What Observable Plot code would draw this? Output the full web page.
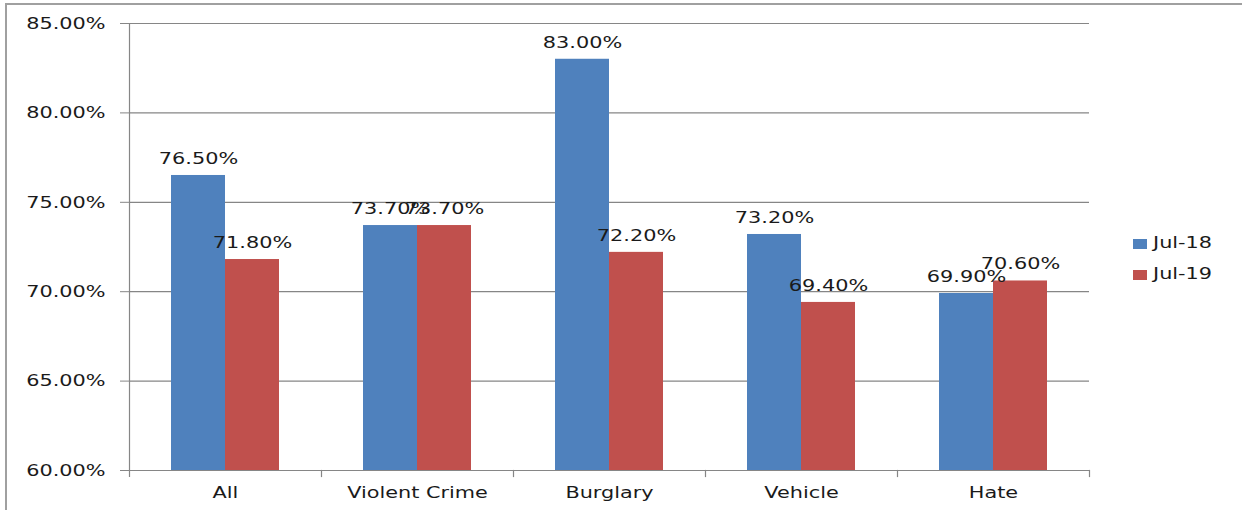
<!DOCTYPE html>
<html>
<head>
<meta charset="utf-8">
<script src="https://cdn.jsdelivr.net/npm/d3@7"></script>
<script src="https://cdn.jsdelivr.net/npm/@observablehq/plot@0.6"></script>
<style>
  html, body { margin: 0; padding: 0; background: #fff; }
  #wrap { position: relative; width: 1242px; height: 510px; overflow: hidden; font-family: "DejaVu Sans", sans-serif; }
  #frame { position: absolute; left: 5px; top: 3px; width: 1300px; height: 600px; border-left: 2px solid #a0a0a0; border-top: 2px solid #a0a0a0; box-sizing: border-box; pointer-events: none; }
  #chart { position: absolute; left: 0; top: 0; }
  .leg { position: absolute; font-size: 16.5px; color: #1a1a1a; line-height: 1; transform: scaleX(1.26); transform-origin: left center; white-space: nowrap; }
  .sw { position: absolute; width: 14px; height: 10px; }
</style>
</head>
<body>
<div id="wrap">
  <div id="chart"></div>
  <div id="frame"></div>
  <div id="legend"></div>
</div>
<script>
const categories = ["All", "Violent Crime", "Burglary", "Vehicle", "Hate"];
const series = ["Jul-18", "Jul-19"];
const jul18 = [76.5, 73.7, 83.0, 73.2, 69.9];
const jul19 = [71.8, 73.7, 72.2, 69.4, 70.6];
const yTicks = [60, 65, 70, 75, 80, 85];
const colors = ["#4F81BD", "#C0504D"];

const seriesValues = [jul18, jul19];
const data = [];
categories.forEach((c, i) => {
  series.forEach((s, j) => data.push({cat: c, series: s, value: seriesValues[j][i]}));
});

const grid = "#868686";
const txt = "#1a1a1a";
const plotH = 510 - 23 - 40;

const chart = Plot.plot({
  width: 1242,
  height: 510,
  marginLeft: 127,
  marginRight: 151,
  marginTop: 23,
  marginBottom: 40,
  style: {fontFamily: "DejaVu Sans", fontSize: "16.5px", background: "transparent"},
  fx: {domain: categories, paddingInner: 0, paddingOuter: 0, label: null},
  x: {domain: series, paddingInner: 0, paddingOuter: 0.75, axis: null},
  y: {domain: [60, 85], label: null},
  color: {domain: series, range: colors},
  marks: [
    Plot.ruleY(yTicks, {stroke: grid, strokeWidth: 1.2, strokeOpacity: 1}),
    Plot.barY(data, {fx: "cat", x: "series", y1: yTicks[0], y2: "value", fill: "series"}),
    Plot.text(data, {fx: "cat", x: "series", y: "value", text: d => d.value.toFixed(2) + "%", dy: -17, fill: txt, fontSize: 16.5}),
    Plot.frame({anchor: "left", facetAnchor: "left", stroke: grid, strokeWidth: 1.2, insetBottom: -6}),
    Plot.frame({anchor: "right", stroke: grid, strokeWidth: 1.2, insetTop: plotH, insetBottom: -6}),
    Plot.axisY({ticks: yTicks, tickFormat: d => d.toFixed(2) + "%", tickSize: 9, tickPadding: 15, stroke: grid, fill: txt, fontSize: 16.5}),
    Plot.axisFx({anchor: "bottom", tickSize: 0, tickPadding: 16, fill: txt, fontSize: 16.5, label: null})
  ]
});
document.getElementById("chart").appendChild(chart);

// Horizontally widen glyphs to match the reference's stretched lettering
d3.select(chart).selectAll("text").each(function () {
  const len = this.getComputedTextLength();
  if (len > 0) {
    this.setAttribute("textLength", (len * 1.26).toFixed(1));
    this.setAttribute("lengthAdjust", "spacingAndGlyphs");
  }
});

const legend = document.getElementById("legend");
const legendTops = [239, 270];
series.forEach((s, j) => {
  const sw = document.createElement("div");
  sw.className = "sw";
  sw.style.left = "1133px";
  sw.style.top = legendTops[j] + "px";
  sw.style.background = colors[j];
  legend.appendChild(sw);
  const t = document.createElement("div");
  t.className = "leg";
  t.style.left = "1153px";
  t.style.top = (legendTops[j] - 4) + "px";
  t.textContent = s;
  legend.appendChild(t);
});
</script>
</body>
</html>
